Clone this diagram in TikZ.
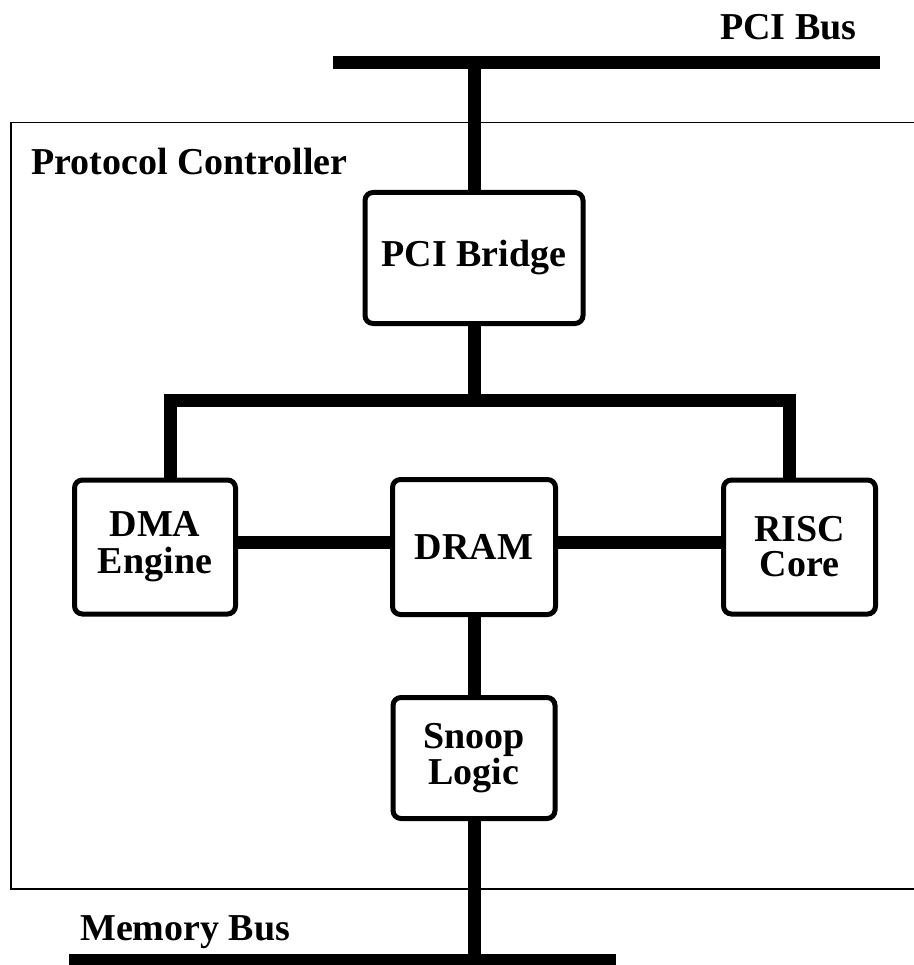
\documentclass[tikz,border=0pt]{standalone}
\usepackage{fontspec}
\setmainfont{Liberation Serif}
\usetikzlibrary{positioning}

\begin{document}
\begin{tikzpicture}[
      x=1pt,y=-1pt,
      unit/.style={draw=black,line width=5pt,rounded corners=8pt,inner sep=0pt,align=center,
        font=\bfseries\fontsize{38}{37}\selectfont},
      tight/.style={font=\bfseries\fontsize{38}{32}\selectfont},
      busname/.style={inner sep=0pt,font=\bfseries\fontsize{38}{37}\selectfont},
      bus/.style={line width=13pt,line join=miter},
      frame/.style={line width=1.5pt}]
      \useasboundingbox (0,0) rectangle (913,965);
      \draw[frame] (11,122.5) rectangle (925,889);
      \node[unit,minimum width=163pt,minimum height=135pt] (dram) at (474,547) {DRAM};
      \node[unit,minimum width=218pt,minimum height=131pt,above=151pt of dram] (bridge) {PCI Bridge};
      \node[unit,minimum width=161pt,minimum height=134pt,left=152pt of dram] (dma) {DMA\\Engine};
      \node[unit,font=\bfseries\fontsize{38}{35}\selectfont,minimum width=152pt,minimum height=134pt,right=163pt of dram] (risc) {RISC\\Core};
      \node[unit,tight,minimum width=162pt,minimum height=121pt,below=78pt of dram] (snoop) {Snoop\\Logic};
      \node[busname,anchor=base west] (pcitext) at (720,40) {PCI Bus};
      \node[busname,anchor=base west] (pctext) at (31,175) {Protocol Controller};
      \node[busname,anchor=base west] (memtext) at (80,940) {Memory Bus};
      \coordinate (pcil) at (333,63);
      \coordinate (pcir) at (880,63);
      \coordinate (jl) at (170.5,400);
      \coordinate (jr) at (789.5,400);
      \coordinate (meml) at (69,960);
      \coordinate (memr) at (616,960);
      \draw[bus] (pcil) -- (pcir);
      \draw[bus] (bridge.north) -- (bridge.north |- pcil);
      \draw[bus] (bridge.south) -- (bridge.south |- jl);
      \draw[bus] (dma.north -| jl) -- (jl) -- (jr) -- (risc.north -| jr);
      \draw[bus] ([yshift=5pt]dma.east) -- ([yshift=5pt]dram.west);
      \draw[bus] ([yshift=5pt]dram.east) -- ([yshift=5pt]risc.west);
      \draw[bus] (dram.south) -- (snoop.north);
      \draw[bus] (snoop.south) -- (snoop.south |- meml);
      \draw[bus] (meml) -- (memr);
    \end{tikzpicture}
\end{document}
